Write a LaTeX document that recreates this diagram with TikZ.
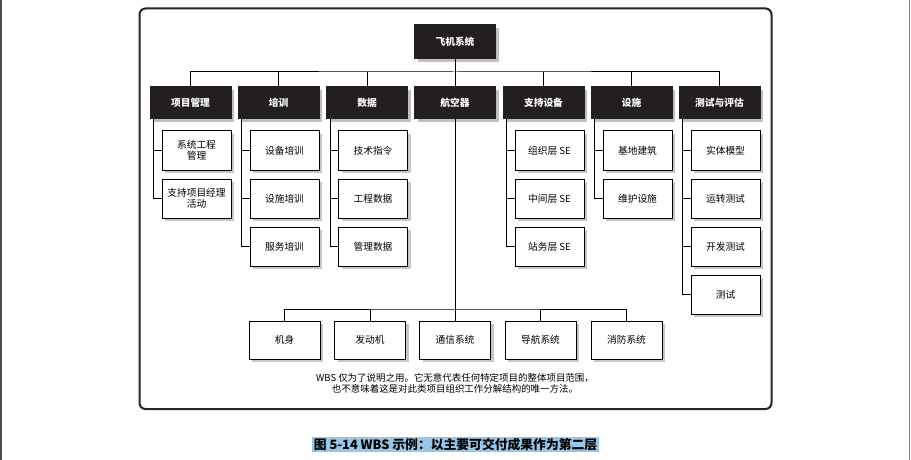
\documentclass[tikz,border=0pt]{standalone}
\usepackage{fontspec}
\usepackage{xcolor}
\usetikzlibrary{calc,shadows}
\newfontfamily\cjk{Noto Sans CJK SC}
\definecolor{capblue}{RGB}{152,198,228}
\definecolor{boxblack}{RGB}{35,31,32}

\begin{document}
\begin{tikzpicture}[x=0.75pt,y=-0.75pt,line width=0.75pt]
		\tikzstyle{head}=[draw=boxblack,fill=boxblack,text=white,minimum width=60.75pt,minimum height=24pt,inner sep=0pt,
			font=\cjk\bfseries\fontsize{7.3}{8.5}\selectfont,
			drop shadow={shadow xshift=2.25pt,shadow yshift=-2.25pt,fill=black!25,opacity=1}]
		\tikzstyle{item}=[draw=black,fill=white,minimum width=51.75pt,minimum height=29.25pt,inner sep=0pt,align=center,
			font=\cjk\fontsize{7.3}{8.5}\selectfont,
			drop shadow={shadow xshift=2.25pt,shadow yshift=-2.25pt,fill=black!22,opacity=1}]
		\tikzstyle{part}=[item,minimum width=53.25pt,minimum height=28.5pt]
		\useasboundingbox (0,0) rectangle (911,460);
		\draw[black!70,line width=1pt] (1,0) -- (1,460);
		\draw[black!50] (909.5,0) -- (909.5,460);
		\draw[black!85,line width=1.5pt,rounded corners=4.5pt] (139.5,8.5) rectangle (771.5,409);
		\node[head,minimum height=25.5pt] (plane) at (455,42) {飞机系统};
		\node[head] (pm) at (190.5,103) {项目管理};
		\node[head] (train) at (278.5,103) {培训};
		\node[head] (data) at (367,103) {数据};
		\node[head] (air) at (455,103) {航空器};
		\node[head] (supp) at (543.5,103) {支持设备};
		\node[head] (fac) at (631.5,103) {设施};
		\node[head] (test) at (719.5,103) {测试与评估};
		\node[item] (pm1) at (196.5,150.5) {系统工程\\管理};
		\node[item] (pm2) at (196.5,198.5) {支持项目经理\\活动};
		\node[item] (train1) at (284.5,150.5) {设备培训};
		\node[item] (train2) at (284.5,198.5) {设施培训};
		\node[item] (train3) at (284.5,246.5) {服务培训};
		\node[item] (data1) at (373,150.5) {技术指令};
		\node[item] (data2) at (373,198.5) {工程数据};
		\node[item] (data3) at (373,246.5) {管理数据};
		\node[item] (supp1) at (549.5,150.5) {组织层 SE};
		\node[item] (supp2) at (549.5,198.5) {中间层 SE};
		\node[item] (supp3) at (549.5,246.5) {站务层 SE};
		\node[item] (fac1) at (637.5,150.5) {基地建筑};
		\node[item] (fac2) at (637.5,198.5) {维护设施};
		\node[item] (test1) at (725.5,150.5) {实体模型};
		\node[item] (test2) at (725.5,198.5) {运转测试};
		\node[item] (test3) at (725.5,246.5) {开发测试};
		\node[item] (test4) at (725.5,294.5) {测试};
		\node[part] (body) at (284.5,340) {机身};
		\node[part] (engine) at (370,340) {发动机};
		\node[part] (comm) at (455,340) {通信系统};
		\node[part] (nav) at (540.5,340) {导航系统};
		\node[part] (fire) at (626.5,340) {消防系统};
		\coordinate (bus) at (455,72);
		\coordinate (bus2) at (455,309);
		\draw (pm.north) |- (bus) -| (test.north);
		\draw (plane) -- (air);
		\draw (train.north) -- (train.north |- bus);
		\draw (data.north) -- (data.north |- bus);
		\draw (supp.north) -- (supp.north |- bus);
		\draw (fac.north) -- (fac.north |- bus);
		\draw ($(pm.south)+(-37,0)$) |- (pm1.west) ($(pm.south)+(-37,0)$) |- (pm2.west);
		\draw ($(train.south)+(-37,0)$) |- (train1.west) ($(train.south)+(-37,0)$) |- (train2.west)
			($(train.south)+(-37,0)$) |- (train3.west);
		\draw ($(data.south)+(-37,0)$) |- (data1.west) ($(data.south)+(-37,0)$) |- (data2.west)
			($(data.south)+(-37,0)$) |- (data3.west);
		\draw ($(supp.south)+(-37,0)$) |- (supp1.west) ($(supp.south)+(-37,0)$) |- (supp2.west)
			($(supp.south)+(-37,0)$) |- (supp3.west);
		\draw ($(fac.south)+(-37,0)$) |- (fac1.west) ($(fac.south)+(-37,0)$) |- (fac2.west);
		\draw ($(test.south)+(-37,0)$) |- (test1.west) ($(test.south)+(-37,0)$) |- (test2.west)
			($(test.south)+(-37,0)$) |- (test3.west) ($(test.south)+(-37,0)$) |- (test4.west);
		\draw (air) -- (comm);
		\draw (body.north) |- (bus2) -| (fire.north);
		\draw (engine.north) -- (engine.north |- bus2);
		\draw (nav.north) -- (nav.north |- bus2);
		\node[align=center,font=\cjk\fontsize{7.1}{7.9}\selectfont] (note) at (455,383.5)
			{WBS 仅为了说明之用。它无意代表任何特定项目的整体项目范围，\\也不意味着这是对此类项目组织工作分解结构的唯一方法。};
		\node[fill=capblue,inner xsep=1.5pt,inner ysep=0.8pt,font=\cjk\bfseries\fontsize{9.6}{11}\selectfont] (caption) at (455.5,444.5)
			{图 5-14 WBS 示例：以主要可交付成果作为第二层};
	\end{tikzpicture}
\end{document}
